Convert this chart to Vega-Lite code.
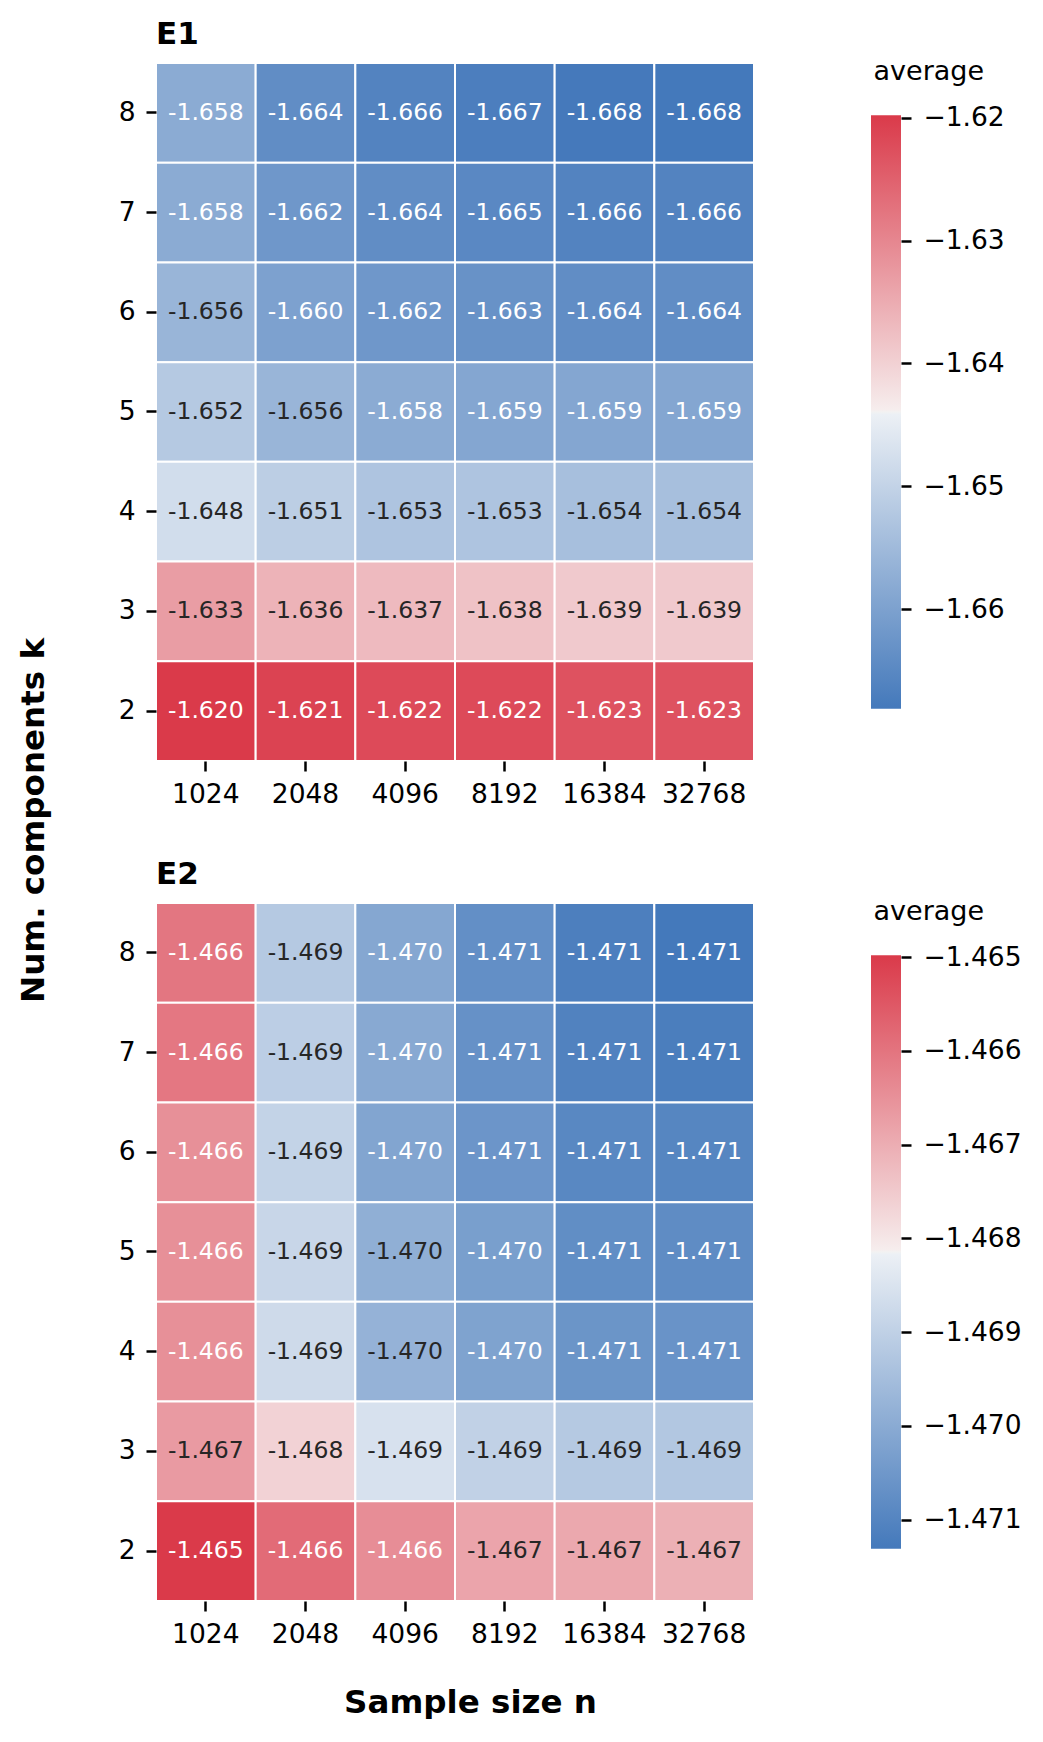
{
  "$schema": "https://vega.github.io/schema/vega-lite/v6.json",
  "background": "white",
  "padding": {"left": 17, "top": 19, "right": 0, "bottom": 0},
  "datasets": {
    "e1": [
      {"k": 8, "n": 1024, "v": -1.658}, {"k": 8, "n": 2048, "v": -1.664}, {"k": 8, "n": 4096, "v": -1.666}, {"k": 8, "n": 8192, "v": -1.667}, {"k": 8, "n": 16384, "v": -1.668}, {"k": 8, "n": 32768, "v": -1.6681},
      {"k": 7, "n": 1024, "v": -1.658}, {"k": 7, "n": 2048, "v": -1.662}, {"k": 7, "n": 4096, "v": -1.664}, {"k": 7, "n": 8192, "v": -1.665}, {"k": 7, "n": 16384, "v": -1.666}, {"k": 7, "n": 32768, "v": -1.666},
      {"k": 6, "n": 1024, "v": -1.656}, {"k": 6, "n": 2048, "v": -1.660}, {"k": 6, "n": 4096, "v": -1.662}, {"k": 6, "n": 8192, "v": -1.663}, {"k": 6, "n": 16384, "v": -1.664}, {"k": 6, "n": 32768, "v": -1.664},
      {"k": 5, "n": 1024, "v": -1.652}, {"k": 5, "n": 2048, "v": -1.656}, {"k": 5, "n": 4096, "v": -1.658}, {"k": 5, "n": 8192, "v": -1.659}, {"k": 5, "n": 16384, "v": -1.659}, {"k": 5, "n": 32768, "v": -1.659},
      {"k": 4, "n": 1024, "v": -1.648}, {"k": 4, "n": 2048, "v": -1.651}, {"k": 4, "n": 4096, "v": -1.653}, {"k": 4, "n": 8192, "v": -1.653}, {"k": 4, "n": 16384, "v": -1.654}, {"k": 4, "n": 32768, "v": -1.654},
      {"k": 3, "n": 1024, "v": -1.633}, {"k": 3, "n": 2048, "v": -1.636}, {"k": 3, "n": 4096, "v": -1.637}, {"k": 3, "n": 8192, "v": -1.638}, {"k": 3, "n": 16384, "v": -1.639}, {"k": 3, "n": 32768, "v": -1.639},
      {"k": 2, "n": 1024, "v": -1.6198}, {"k": 2, "n": 2048, "v": -1.621}, {"k": 2, "n": 4096, "v": -1.622}, {"k": 2, "n": 8192, "v": -1.622}, {"k": 2, "n": 16384, "v": -1.623}, {"k": 2, "n": 32768, "v": -1.623}
    ],
    "e2": [
      {"k": 8, "n": 1024, "v": -1.46603}, {"k": 8, "n": 2048, "v": -1.46919}, {"k": 8, "n": 4096, "v": -1.47010}, {"k": 8, "n": 8192, "v": -1.47073}, {"k": 8, "n": 16384, "v": -1.47114}, {"k": 8, "n": 32768, "v": -1.47131},
      {"k": 7, "n": 1024, "v": -1.46605}, {"k": 7, "n": 2048, "v": -1.46906}, {"k": 7, "n": 4096, "v": -1.47004}, {"k": 7, "n": 8192, "v": -1.47068}, {"k": 7, "n": 16384, "v": -1.47107}, {"k": 7, "n": 32768, "v": -1.47118},
      {"k": 6, "n": 1024, "v": -1.46649}, {"k": 6, "n": 2048, "v": -1.46894}, {"k": 6, "n": 4096, "v": -1.47016}, {"k": 6, "n": 8192, "v": -1.47057}, {"k": 6, "n": 16384, "v": -1.47092}, {"k": 6, "n": 32768, "v": -1.47098},
      {"k": 5, "n": 1024, "v": -1.46648}, {"k": 5, "n": 2048, "v": -1.46885}, {"k": 5, "n": 4096, "v": -1.46989}, {"k": 5, "n": 8192, "v": -1.47032}, {"k": 5, "n": 16384, "v": -1.47076}, {"k": 5, "n": 32768, "v": -1.47081},
      {"k": 4, "n": 1024, "v": -1.46649}, {"k": 4, "n": 2048, "v": -1.46874}, {"k": 4, "n": 4096, "v": -1.46980}, {"k": 4, "n": 8192, "v": -1.47021}, {"k": 4, "n": 16384, "v": -1.47058}, {"k": 4, "n": 32768, "v": -1.47062},
      {"k": 3, "n": 1024, "v": -1.46667}, {"k": 3, "n": 2048, "v": -1.46765}, {"k": 3, "n": 4096, "v": -1.46857}, {"k": 3, "n": 8192, "v": -1.46898}, {"k": 3, "n": 16384, "v": -1.46919}, {"k": 3, "n": 32768, "v": -1.46926},
      {"k": 2, "n": 1024, "v": -1.46498}, {"k": 2, "n": 2048, "v": -1.46584}, {"k": 2, "n": 4096, "v": -1.46644}, {"k": 2, "n": 8192, "v": -1.46684}, {"k": 2, "n": 16384, "v": -1.46691}, {"k": 2, "n": 32768, "v": -1.46705}
    ]
  },
  "config": {
    "font": "DejaVu Sans",
    "view": {"stroke": null},
    "locale": {
      "number": {"decimal": ".", "thousands": ",", "grouping": [3], "currency": ["$", ""], "minus": "-"}
    },
    "axis": {
      "labelFont": "DejaVu Sans",
      "labelFontSize": 26.5,
      "labelColor": "black",
      "tickColor": "black",
      "tickSize": 10,
      "tickWidth": 2.5,
      "domain": false,
      "grid": false,
      "titleFont": "DejaVu Sans",
      "titleFontSize": 32.5,
      "titleFontWeight": "bold",
      "titleColor": "black"
    },
    "title": {
      "font": "DejaVu Sans",
      "fontSize": 31,
      "fontWeight": "bold",
      "color": "black",
      "anchor": "start",
      "frame": "group",
      "baseline": "alphabetic",
      "offset": 11
    }
  },
  "columns": 2,
  "spacing": {"row": 142, "column": 117},
  "bounds": "flush",
  "resolve": {"scale": {"color": "independent", "x": "independent", "y": "independent"}},
  "concat": [
    {
      "title": "E1",
      "width": 598,
      "height": 698,
      "data": {"name": "e1"},
      "encoding": {
        "x": {
          "field": "n", "type": "ordinal", "sort": "ascending",
          "scale": {"paddingInner": 0, "paddingOuter": 0},
          "axis": {"title": null, "labelAngle": 0, "labelPadding": 10}
        },
        "y": {
          "field": "k", "type": "ordinal", "sort": "descending",
          "scale": {"paddingInner": 0, "paddingOuter": 0},
          "axis": {
            "title": "Num. components k",
            "labelPadding": 11,
            "titleAngle": 270,
            "titleAlign": "center",
            "titleBaseline": "middle",
            "titleX": -123,
            "titleY": 757
          }
        }
      },
      "layer": [
        {
          "mark": {"type": "rect", "stroke": "white", "strokeWidth": 2},
          "encoding": {
            "color": {
              "field": "v", "type": "quantitative", "legend": null,
              "scale": {
                "domain": [-1.6681, -1.64414, -1.64395, -1.64376, -1.6198],
                "range": ["#4479bb", "#ecf0f5", "#f2f2f2", "#f6eded", "#da3a4a"],
                "interpolate": "rgb"
              }
            }
          }
        },
        {
          "mark": {"type": "text", "fontSize": 23.5, "font": "DejaVu Sans", "baseline": "middle"},
          "encoding": {
            "text": {"field": "v", "type": "quantitative", "format": ".3f"},
            "color": {
              "condition": {"test": "datum.v < -1.657 || datum.v > -1.628", "value": "white"},
              "value": "#262626"
            }
          }
        }
      ]
    },
    {
      "width": 30,
      "height": 698,
      "data": {"name": "e1"},
      "mark": {
        "type": "rect",
        "color": {
          "gradient": "linear", "x1": 0, "y1": 1, "x2": 0, "y2": 0,
          "stops": [
            {"offset": 0, "color": "#4479bb"},
            {"offset": 0.496, "color": "#ecf0f5"},
            {"offset": 0.5, "color": "#f2f2f2"},
            {"offset": 0.504, "color": "#f6eded"},
            {"offset": 1, "color": "#da3a4a"}
          ]
        }
      },
      "encoding": {
        "y": {
          "aggregate": "min", "field": "v", "type": "quantitative",
          "scale": {"domain": [-1.672352, -1.615548], "nice": false, "zero": false},
          "axis": {
            "orient": "right",
            "values": [-1.62, -1.63, -1.64, -1.65, -1.66],
            "format": ".2f",
            "labelExpr": "replace(datum.label, '-', '\u2212')",
            "labelPadding": 12,
            "title": "average",
            "titleFontWeight": "normal",
            "titleFontSize": 27,
            "titleAngle": 0,
            "titleAlign": "left",
            "titleBaseline": "alphabetic",
            "titleX": -28,
            "titleY": 16
          }
        },
        "y2": {"aggregate": "max", "field": "v"}
      }
    },
    {
      "title": "E2",
      "width": 598,
      "height": 698,
      "data": {"name": "e2"},
      "encoding": {
        "x": {
          "field": "n", "type": "ordinal", "sort": "ascending",
          "scale": {"paddingInner": 0, "paddingOuter": 0},
          "axis": {
            "title": "Sample size n",
            "labelAngle": 0,
            "labelPadding": 10,
            "titleAlign": "center",
            "titleBaseline": "alphabetic",
            "titleX": 314,
            "titleY": 111
          }
        },
        "y": {
          "field": "k", "type": "ordinal", "sort": "descending",
          "scale": {"paddingInner": 0, "paddingOuter": 0},
          "axis": {"title": null, "labelPadding": 11}
        }
      },
      "layer": [
        {
          "mark": {"type": "rect", "stroke": "white", "strokeWidth": 2},
          "encoding": {
            "color": {
              "field": "v", "type": "quantitative", "legend": null,
              "scale": {
                "domain": [-1.47131, -1.46817, -1.468145, -1.46812, -1.46498],
                "range": ["#4479bb", "#ecf0f5", "#f2f2f2", "#f6eded", "#da3a4a"],
                "interpolate": "rgb"
              }
            }
          }
        },
        {
          "mark": {"type": "text", "fontSize": 23.5, "font": "DejaVu Sans", "baseline": "middle"},
          "encoding": {
            "text": {"field": "v", "type": "quantitative", "format": ".3f"},
            "color": {
              "condition": {"test": "datum.v < -1.46995 || datum.v > -1.4666", "value": "white"},
              "value": "#262626"
            }
          }
        }
      ]
    },
    {
      "width": 30,
      "height": 698,
      "data": {"name": "e2"},
      "mark": {
        "type": "rect",
        "color": {
          "gradient": "linear", "x1": 0, "y1": 1, "x2": 0, "y2": 0,
          "stops": [
            {"offset": 0, "color": "#4479bb"},
            {"offset": 0.496, "color": "#ecf0f5"},
            {"offset": 0.5, "color": "#f2f2f2"},
            {"offset": 0.504, "color": "#f6eded"},
            {"offset": 1, "color": "#da3a4a"}
          ]
        }
      },
      "encoding": {
        "y": {
          "aggregate": "min", "field": "v", "type": "quantitative",
          "scale": {"domain": [-1.471867, -1.464423], "nice": false, "zero": false},
          "axis": {
            "orient": "right",
            "values": [-1.465, -1.466, -1.467, -1.468, -1.469, -1.47, -1.471],
            "format": ".3f",
            "labelExpr": "replace(datum.label, '-', '\u2212')",
            "labelPadding": 12,
            "title": "average",
            "titleFontWeight": "normal",
            "titleFontSize": 27,
            "titleAngle": 0,
            "titleAlign": "left",
            "titleBaseline": "alphabetic",
            "titleX": -28,
            "titleY": 16
          }
        },
        "y2": {"aggregate": "max", "field": "v"}
      }
    }
  ]
}
